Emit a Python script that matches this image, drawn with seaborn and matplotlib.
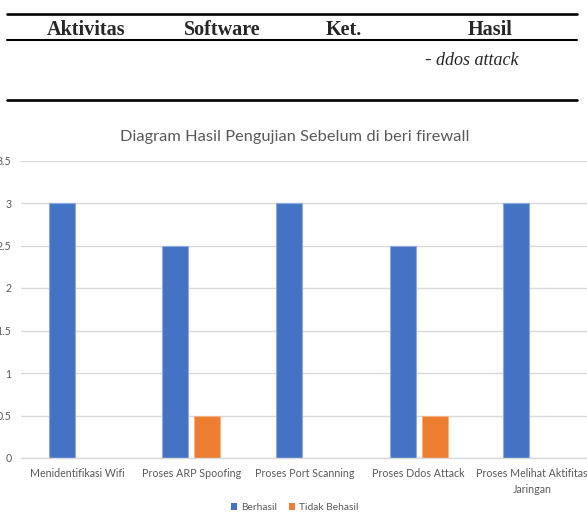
import matplotlib
matplotlib.use("Agg")
import matplotlib.pyplot as plt
from matplotlib.lines import Line2D
from matplotlib.patches import Patch
import seaborn as sns
import pandas as pd

categories = ["Menidentifikasi Wifi", "Proses ARP Spoofing", "Proses Port Scanning",
              "Proses Ddos Attack", "Proses Melihat Aktifitas\nJaringan"]
berhasil = [3, 2.5, 3, 2.5, 3]
tidak_behasil = [0, 0.5, 0, 0.5, 0]
series_names = ["Berhasil", "Tidak Behasil"]
yticks = [0, 0.5, 1, 1.5, 2, 2.5, 3, 3.5]
ytick_labels = ["0", "0.5", "1", "1.5", "2", "2.5", "3", "3.5"]
title = "Diagram Hasil Pengujian Sebelum di beri firewall"
table_headers = ["Aktivitas", "Software", "Ket.", "Hasil"]
table_bullet = "-"
table_cell = "ddos attack"

colors = ["#4472C4", "#ED7D31"]
edge_colors = ["#8FAADC", "#F4B183"]
grey = "#595959"

df = pd.DataFrame({
    "Aktivitas": categories * 2,
    "Status": [series_names[0]] * len(categories) + [series_names[1]] * len(categories),
    "Nilai": berhasil + tidak_behasil,
})

W, H = 587, 513
sns.set_theme(style="white")
plt.rcParams["font.family"] = ["Lato", "DejaVu Sans"]

fig = plt.figure(figsize=(W / 100, H / 100), dpi=100)

def fx(px):
    return px / W

def fy(py):
    return 1 - py / H

left, right, top, bottom = 20.7, 589.0, 160.5, 458.0
ax = fig.add_axes([fx(left), fy(bottom), fx(right - left), (bottom - top) / H])

sns.barplot(data=df, x="Aktivitas", y="Nilai", hue="Status", palette=colors,
            saturation=1, width=0.563, gap=0.1875, linewidth=0, ax=ax,
            legend=False, errorbar=None)

for i, patch in enumerate(ax.patches):
    if patch.get_height() > 0:
        patch.set_edgecolor(edge_colors[i // len(categories)])
        patch.set_linewidth(0.8)

ax.set_ylim(0, 3.5)
ax.set_xlim(-0.5, len(categories) - 0.5)
ax.set_yticks(yticks)
ax.set_yticklabels(ytick_labels)
ax.yaxis.grid(True, color="#D9D9D9", linewidth=1.0)
ax.set_axisbelow(True)
for s in ["top", "right", "left"]:
    ax.spines[s].set_visible(False)
ax.spines["bottom"].set_color("#D9D9D9")
ax.spines["bottom"].set_linewidth(1.0)
ax.tick_params(axis="y", length=0, pad=6.8, labelsize=7.6, labelcolor=grey)
ax.tick_params(axis="x", length=0, pad=7.2, labelsize=7.7, labelcolor=grey)
for lbl in ax.get_xticklabels():
    lbl.set_linespacing(1.55)
ax.set_xlabel("")
ax.set_ylabel("")

fig.text(fx(295), fy(137), title, ha="center", va="center", fontsize=11.8, color=grey)

handles = [Patch(facecolor=c, edgecolor="none") for c in colors]
fig.legend(handles, series_names, loc="center", bbox_to_anchor=(fx(295), fy(507.5)),
           ncol=2, frameon=False, fontsize=7.4, labelcolor=grey,
           handlelength=0.6, handleheight=0.6, handletextpad=0.4, columnspacing=1.1)

# table header above the chart
for y, lw in [(14, 1.9), (40, 1.5), (100, 1.9)]:
    fig.add_artist(Line2D([fx(7), fx(577)], [fy(y), fy(y)], color="black", linewidth=lw))
serif = ["Liberation Serif", "DejaVu Serif"]
for x, t in zip([86, 222, 344, 490], table_headers):
    fig.text(fx(x), fy(35), t, ha="center", va="baseline", fontsize=14.5,
             fontweight="bold", family=serif)
fig.text(fx(424), fy(65), table_bullet, ha="left", va="baseline", fontsize=14,
         family=serif)
fig.text(fx(436), fy(65), table_cell, ha="left", va="baseline", fontsize=13,
         style="italic", family=serif)

fig.savefig("out.png", dpi=100)
